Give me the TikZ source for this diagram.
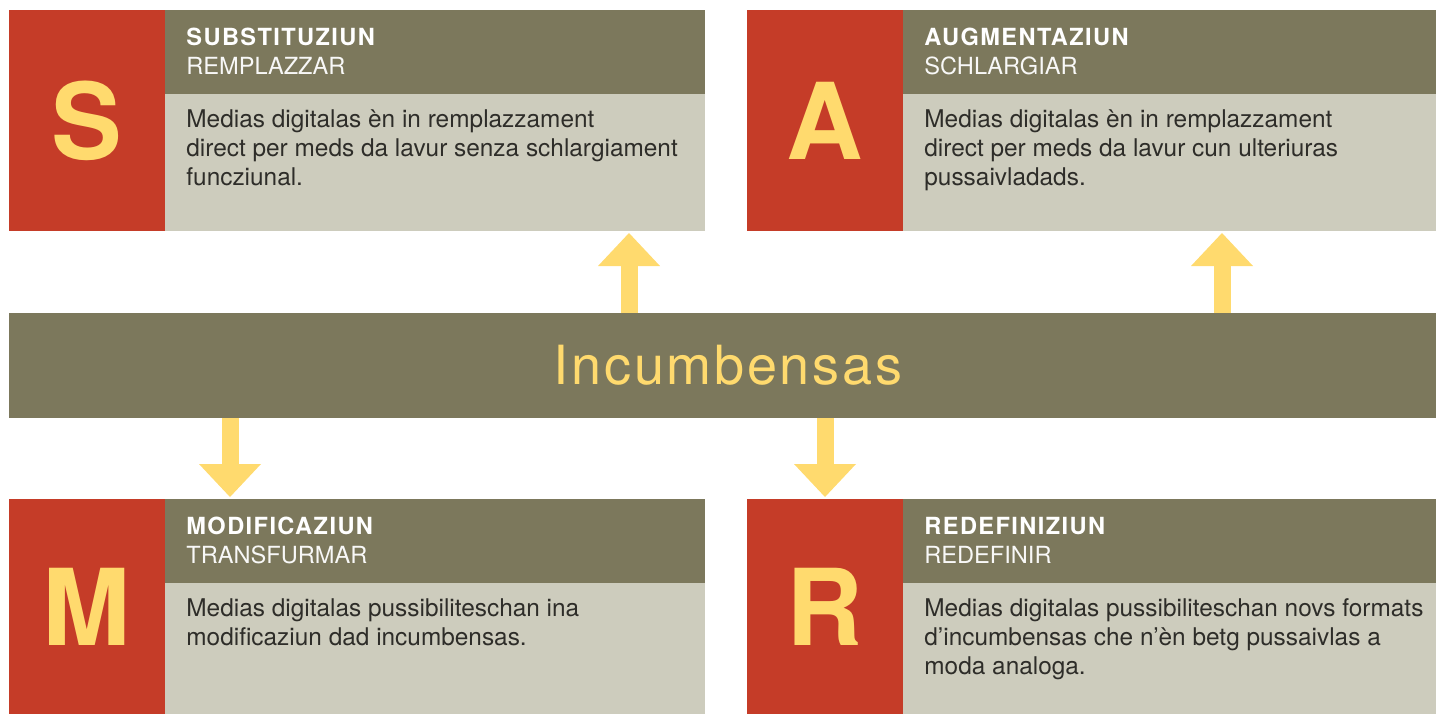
\documentclass[tikz,border=0pt]{standalone}
\usepackage{fontspec}
\setmainfont{TeX Gyre Heros}
\usetikzlibrary{arrows.meta,positioning}
\definecolor{samred}{HTML}{C53C28}
\definecolor{samolive}{HTML}{7C785C}
\definecolor{samgrey}{HTML}{CDCCBD}
\definecolor{samyellow}{HTML}{FFDA6E}
\definecolor{samtext}{HTML}{2E2D29}
\begin{document}
\begin{tikzpicture}[x=0.5pt,y=-0.5pt,
  letterbox/.style={fill=samred, inner sep=0pt, outer sep=0pt, anchor=north west, minimum width=78pt,
    text=samyellow, font=\fontsize{53}{53}\selectfont\bfseries},
  headbox/.style={fill=samolive, inner sep=0pt, outer sep=0pt, anchor=north west, minimum height=42pt},
  bodybox/.style={fill=samgrey, inner sep=0pt, outer sep=0pt, anchor=north west},
  titel/.style={anchor=base west, inner sep=0pt, text=white,
    font=\fontsize{11.8}{14}\selectfont\bfseries\addfontfeature{LetterSpace=6}},
  subtitel/.style={anchor=base west, inner sep=0pt, text=white!95!samolive,
    font=\fontsize{11.8}{14}\selectfont},
  bodytext/.style={anchor=north west, inner sep=0pt, align=left, text=samtext,
    font=\fontsize{12.2}{14.5}\selectfont},
  taskbar/.style={fill=samolive, inner sep=0pt, outer sep=0pt, minimum width=713.5pt, minimum height=52.5pt,
    text=samyellow, font=\fontsize{27}{27}\selectfont\addfontfeature{LetterSpace=5}},
  bigarrow/.style={draw=samyellow, line width=8.5pt,
    -{Triangle[width=31pt,length=16.5pt,line width=0pt]}}]
\useasboundingbox (0,0) rectangle (1436,714);

% the four blocks
\foreach \ltr/\bx/\by/\hw/\bh/\ttl/\sub/\txt in {
  S/9/10/540/221/SUBSTITUZIUN/REMPLAZZAR/{Medias digitalas èn in remplazzament\\direct per meds da lavur senza schlargiament\\funcziunal.},
  A/747/10/533/221/AUGMENTAZIUN/SCHLARGIAR/{Medias digitalas èn in remplazzament\\direct per meds da lavur cun ulteriuras\\pussaivladads.},
  M/9/499/540/215/MODIFICAZIUN/TRANSFURMAR/{Medias digitalas pussibiliteschan ina\\modificaziun dad incumbensas.},
  R/747/499/533/215/REDEFINIZIUN/REDEFINIR/{Medias digitalas pussibiliteschan novs formats\\d’incumbensas che n’èn betg pussaivlas a\\moda analoga.}}
{
\node[letterbox, minimum height=\bh*0.5pt] (\ltr) at (\bx,\by) {\ltr};
\node[headbox, minimum width=\hw*0.5pt] (\ltr-head) at (\ltr.north east) {};
\node[bodybox, minimum width=\hw*0.5pt, minimum height=\bh*0.5pt-42pt] (\ltr-body) at (\ltr-head.south west) {};
\node[titel] (\ltr-titel) at ([xshift=10.5pt,yshift=-17.5pt]\ltr-head.north west) {\ttl};
\node[subtitel] (\ltr-sub) at ([xshift=10.5pt,yshift=-32pt]\ltr-head.north west) {\sub};
\node[bodytext] (\ltr-text) at ([xshift=10.5pt,yshift=-6.35pt]\ltr-body.north west) {\strut\txt};
}

% middle bar
\node[taskbar] (task) at (722.5,365.5) {\hspace*{5.5pt}Incumbensas};

% arrows
\coordinate (upS) at (629,0);
\coordinate (upA) at (1222,0);
\coordinate (downM) at (230,0);
\coordinate (downR) at (825,0);
\draw[bigarrow] (task.north -| upS) -- ([yshift=-1pt]S-body.south -| upS);
\draw[bigarrow] (task.north -| upA) -- ([yshift=-1pt]A-body.south -| upA);
\draw[bigarrow] (task.south -| downM) -- ([yshift=1pt]M-head.north -| downM);
\draw[bigarrow] (task.south -| downR) -- ([yshift=1pt]R.north -| downR);
\end{tikzpicture}
\end{document}
